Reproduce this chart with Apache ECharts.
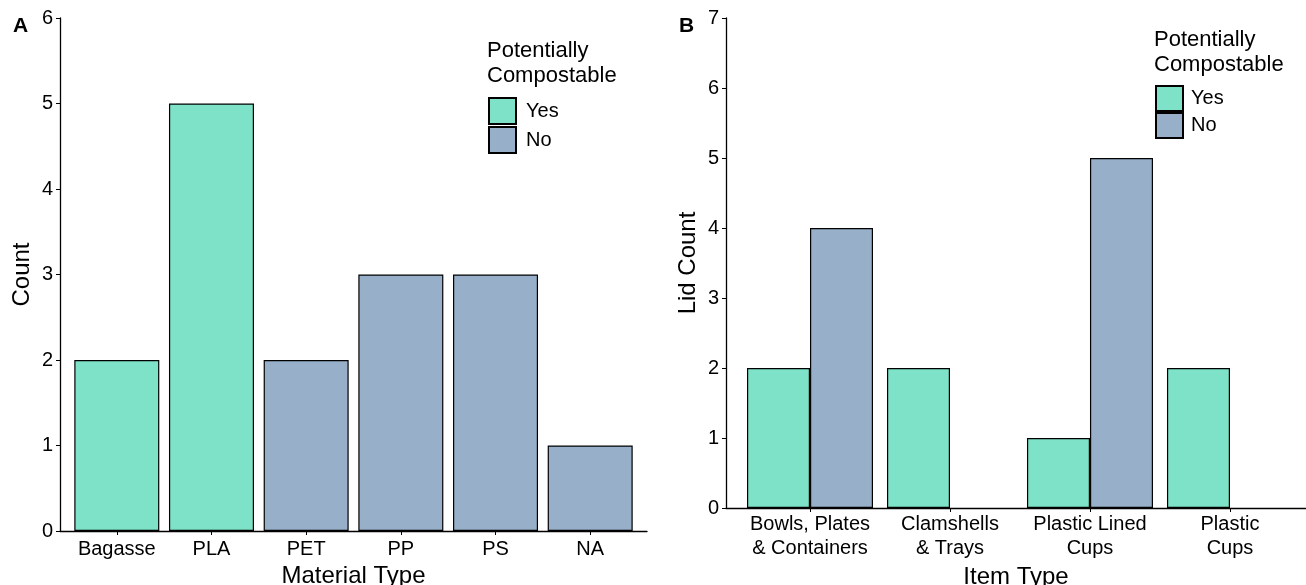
<!DOCTYPE html>
<html>
<head>
<meta charset="utf-8">
<script src="https://cdn.jsdelivr.net/npm/echarts@6/dist/echarts.min.js"></script>
<style>
html,body{margin:0;padding:0;background:#fff;}
#chart{width:1306px;height:585px;}
</style>
</head>
<body>
<div id="chart"></div>
<script>
// Panel A data
var materials = ['Bagasse', 'PLA', 'PET', 'PP', 'PS', 'NA'];
var materialCounts = [2, 5, 2, 3, 3, 1];
var materialCompostable = ['Yes', 'Yes', 'No', 'No', 'No', 'No'];
var countTicks = [0, 1, 2, 3, 4, 5, 6];

// Panel B data
var itemTypes = ['Bowls, Plates\n& Containers', 'Clamshells\n& Trays', 'Plastic Lined\nCups', 'Plastic\nCups'];
var lidYes = [2, 2, 1, 2];
var lidNo = [4, null, 5, null];
var lidTicks = [0, 1, 2, 3, 4, 5, 6, 7];

var legendNames = ['Yes', 'No'];
var legendTitle = 'Potentially\nCompostable';

var YES_COLOR = '#7DE2C8';
var NO_COLOR = '#97AFC8';
var FONT = '"Liberation Sans", Arial, sans-serif';

function pos(arr) { return arr.map(function (_, i) { return i + 1; }); }

var aYes = [], aNo = [];
materials.forEach(function (m, i) {
  (materialCompostable[i] === 'Yes' ? aYes : aNo).push([i + 1, materialCounts[i]]);
});
var bYes = [], bNo = [];
itemTypes.forEach(function (t, i) {
  if (lidYes[i] != null) bYes.push([i + 1, lidYes[i]]);
  if (lidNo[i] != null) bNo.push([i + 1, lidNo[i]]);
});

var barStyle = function (c) { return { color: c, borderColor: '#000', borderWidth: 1.2 }; };

var axisLineStyle = { lineStyle: { color: '#000', width: 1.3 } };
var tickStyle = { show: true, length: 4, inside: false, lineStyle: { color: '#000', width: 1 } };

var chart = echarts.init(document.getElementById('chart'), null, { renderer: 'canvas' });
chart.setOption({
  backgroundColor: '#fff',
  animation: false,
  textStyle: { fontFamily: FONT },
  title: [
    { text: 'A', left: 13, top: 16, padding: 0, textStyle: { fontSize: 21, fontWeight: 'bold', color: '#000', fontFamily: FONT } },
    { text: 'B', left: 679, top: 16, padding: 0, textStyle: { fontSize: 21, fontWeight: 'bold', color: '#000', fontFamily: FONT } },
    { text: legendTitle, left: 487, top: 38, padding: 0, textStyle: { fontSize: 22, lineHeight: 25, fontWeight: 'normal', color: '#000', fontFamily: FONT } },
    { text: legendTitle, left: 1154, top: 27, padding: 0, textStyle: { fontSize: 22, lineHeight: 25, fontWeight: 'normal', color: '#000', fontFamily: FONT } }
  ],
  legend: [
    { seriesIndex: [0, 1], data: legendNames, orient: 'vertical', left: 488, top: 97, padding: 0,
      itemWidth: 27, itemHeight: 26, itemGap: 1, icon: 'rect',
      textStyle: { fontSize: 20, lineHeight: 20, color: '#000', fontFamily: FONT, padding: [0, 0, 0, 5] } },
    { data: legendNames, orient: 'vertical', left: 1155, top: 85, padding: 0,
      itemWidth: 27, itemHeight: 25, itemGap: 0, icon: 'rect',
      textStyle: { fontSize: 20, lineHeight: 20, color: '#000', fontFamily: FONT, padding: [0, 0, 0, 3] } }
  ],
  grid: [
    { left: 60, top: 18, width: 587, height: 513, containLabel: false, outerBoundsMode: 'none' },
    { left: 726, top: 18, width: 580, height: 490, containLabel: false, outerBoundsMode: 'none' }
  ],
  xAxis: [
    { type: 'value', gridIndex: 0, min: 0.4, max: 6.6,
      name: 'Material Type', nameLocation: 'middle', nameGap: 31,
      nameTextStyle: { fontSize: 24, color: '#000', fontFamily: FONT },
      axisLine: axisLineStyle,
      axisTick: Object.assign({}, tickStyle, { customValues: pos(materials) }),
      axisLabel: { customValues: pos(materials), margin: 8, fontSize: 20, color: '#000', fontFamily: FONT,
        formatter: function (v) { return materials[Math.round(v) - 1] || ''; } },
      splitLine: { show: false } },
    { type: 'value', gridIndex: 1, min: 0.4, max: 4.543,
      name: 'Item Type', nameLocation: 'middle', nameGap: 54,
      nameTextStyle: { fontSize: 24, color: '#000', fontFamily: FONT },
      axisLine: axisLineStyle,
      axisTick: Object.assign({}, tickStyle, { customValues: pos(itemTypes) }),
      axisLabel: { customValues: pos(itemTypes), margin: 4, fontSize: 20, lineHeight: 24, color: '#000', fontFamily: FONT,
        formatter: function (v) { return itemTypes[Math.round(v) - 1] || ''; } },
      splitLine: { show: false } }
  ],
  yAxis: [
    { type: 'value', gridIndex: 0, min: countTicks[0], max: countTicks[countTicks.length - 1], interval: 1,
      name: 'Count', nameLocation: 'middle', nameGap: 26,
      nameTextStyle: { fontSize: 24, color: '#000', fontFamily: FONT },
      axisLine: Object.assign({ show: true }, axisLineStyle),
      axisTick: tickStyle,
      axisLabel: { margin: 7, fontSize: 20, color: '#000', fontFamily: FONT },
      splitLine: { show: false } },
    { type: 'value', gridIndex: 1, min: lidTicks[0], max: lidTicks[lidTicks.length - 1], interval: 1,
      name: 'Lid Count', nameLocation: 'middle', nameGap: 26,
      nameTextStyle: { fontSize: 24, color: '#000', fontFamily: FONT },
      axisLine: Object.assign({ show: true }, axisLineStyle),
      axisTick: tickStyle,
      axisLabel: { margin: 7, fontSize: 20, color: '#000', fontFamily: FONT },
      splitLine: { show: false } }
  ],
  series: [
    { name: 'Yes', type: 'bar', xAxisIndex: 0, yAxisIndex: 0, data: aYes, barWidth: 85, barGap: '-100%', itemStyle: barStyle(YES_COLOR) },
    { name: 'No', type: 'bar', xAxisIndex: 0, yAxisIndex: 0, data: aNo, barWidth: 85, barGap: '-100%', itemStyle: barStyle(NO_COLOR) },
    { name: 'Yes', type: 'bar', xAxisIndex: 1, yAxisIndex: 1, data: bYes, barWidth: 63, barGap: 0, itemStyle: barStyle(YES_COLOR) },
    { name: 'No', type: 'bar', xAxisIndex: 1, yAxisIndex: 1, data: bNo, barWidth: 63, barGap: 0, itemStyle: barStyle(NO_COLOR) }
  ]
});
</script>
</body>
</html>
